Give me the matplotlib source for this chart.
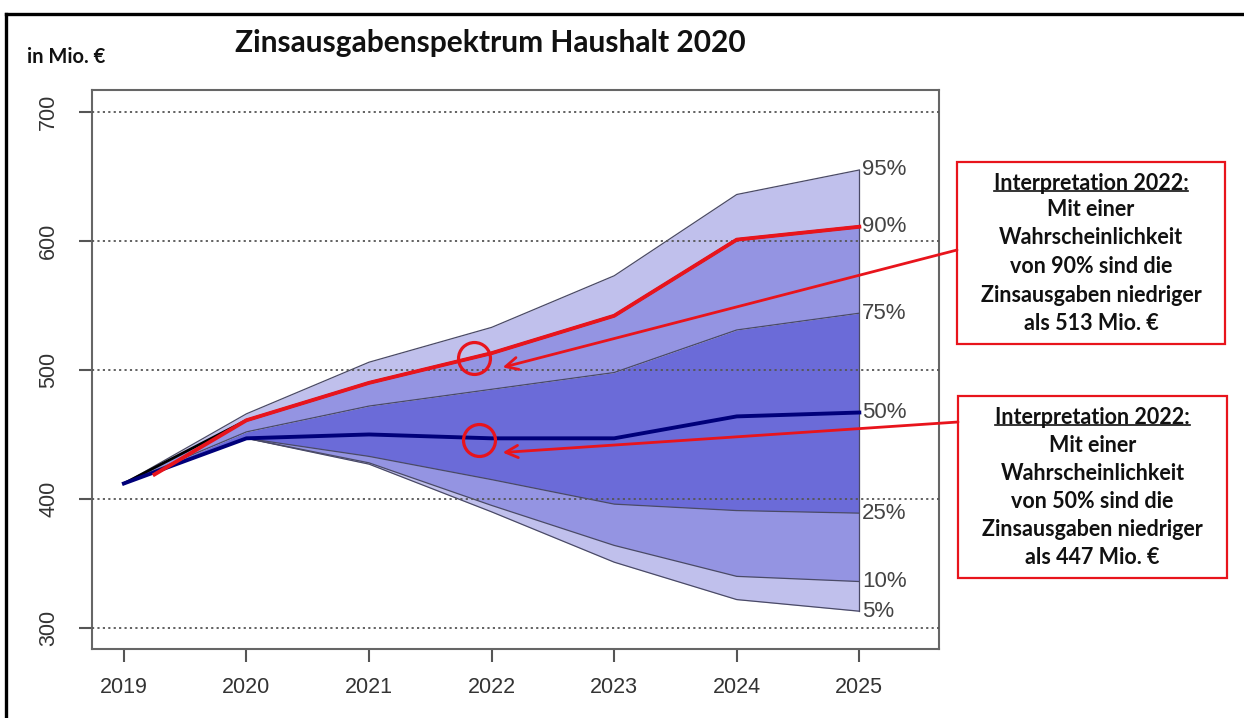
import matplotlib
matplotlib.use("Agg")
import matplotlib.pyplot as plt
from matplotlib.lines import Line2D
from matplotlib.patches import Rectangle

# Fan chart quantiles (Mio. EUR)
years = [2019, 2020, 2021, 2022, 2023, 2024, 2025]
q05 = [412, 447, 427, 390, 351, 322, 313]
q10 = [412, 447, 428, 395, 364, 340, 336]
q25 = [412, 447, 433, 415, 396, 391, 389]
q50 = [412, 447, 450, 447, 447, 464, 467]
q75 = [412, 452, 472, 485, 498, 531, 544]
q90 = [412, 461, 490, 513, 542, 601, 611]
q95 = [412, 466, 506, 533, 573, 636, 655]
quant_labels = ["5%", "10%", "25%", "50%", "75%", "90%", "95%"]

# hand-drawn red 90% overlay
red_x = [2019.25, 2020, 2021, 2022, 2023, 2024, 2025]
red_y = [419, 461, 490, 513, 542, 601, 611]

# highlighted points in 2022 and where the arrows point
circle_x = [2021.86, 2021.90]
circle_y = [509, 446]
arrow_x = [2022.09, 2022.09]
arrow_y = [502, 436]

grid_y = [300, 400, 500, 600, 700]

box_lines = [
    ["Interpretation 2022:", "Mit einer", "Wahrscheinlichkeit",
     "von 90% sind die", "Zinsausgaben niedriger", "als 513 Mio. \u20ac"],
    ["Interpretation 2022:", "Mit einer", "Wahrscheinlichkeit",
     "von 50% sind die", "Zinsausgaben niedriger", "als 447 Mio. \u20ac"],
]

W, H = 1244, 718
light = "#c0c0ec"
mid = "#9494e2"
inner = "#6b6bd8"
edge = "#4a4a66"
red = "#e8141c"
navy = "#00007a"


def fp(x, y):
    # figure pixel (from top-left) -> figure fraction
    return x / W, 1 - y / H


fig = plt.figure(figsize=(W / 100, H / 100), dpi=100)
ax = fig.add_axes([92 / W, 1 - 649 / H, (939 - 92) / W, (649 - 90) / H])

qs = [q05, q10, q25, q50, q75, q90, q95]
cols = [light, mid, inner, inner, mid, light]
for lo, hi, c in zip(qs[:-1], qs[1:], cols):
    ax.fill_between(years, lo, hi, color=c, lw=0, zorder=1)
for q in [q05, q10, q25, q75, q95]:
    ax.plot(years, q, color=edge, lw=0.9, zorder=2)
ax.plot([2025, 2025], [q05[-1], q95[-1]], color=edge, lw=0.9, zorder=2)
ax.plot(years, q90, color="black", lw=2, zorder=2)

for g in grid_y:
    ax.axhline(g, color="#555555", lw=1.3, ls=(0, (1.2, 1.8)), zorder=3)

ax.plot(years, q50, color=navy, lw=2.8, zorder=4)
ax.plot(red_x, red_y, color=red, lw=2.8, zorder=5)

for q, lab in zip(qs, quant_labels):
    ax.text(2025.02, q[-1], lab, ha="left", va="center", fontsize=16,
            color="#444444", family="Liberation Sans", zorder=6)

ax.plot(circle_x, circle_y, "o", ms=23, mfc="none", mec=red, mew=2.3, zorder=6)

ax.set_xlim(2018.74, 2025.65)
ax.set_ylim(283.7, 717)
ax.set_xticks(years)
ax.set_yticks(grid_y)
ax.set_yticklabels([str(v) for v in grid_y], rotation=90, va="center")
for s in ax.spines.values():
    s.set_color("#666666")
    s.set_linewidth(1.5)
ax.tick_params(axis="both", direction="out", length=9.5, width=1.5,
               color="#555555", labelcolor="#333333", labelsize=15.5)
ax.tick_params(axis="y", pad=14)
ax.tick_params(axis="x", pad=11)
for t in ax.get_xticklabels() + ax.get_yticklabels():
    t.set_family("Liberation Sans")

# outer frame (top and left)
fig.add_artist(Line2D([6 / W, 1.0], [1 - 14 / H, 1 - 14 / H], color="black", lw=2.4))
fig.add_artist(Line2D([6 / W, 6 / W], [1 - 14 / H, 0], color="black", lw=2.4))

fig.text(*fp(490, 43), "Zinsausgabenspektrum Haushalt 2020", ha="center",
         va="center", fontsize=21.5, family="Lato", weight="bold", color="#111111")
fig.text(*fp(27, 57), "in Mio. \u20ac", ha="left", va="center", fontsize=14.5,
         family="Lato", weight="bold", color="#111111")

# interpretation boxes
boxes = [(957, 162, 1225, 344), (958, 396, 1227, 578)]
line_y = [[183, 210, 238, 267, 295, 323], [417, 445, 473, 502, 529, 557]]
arrow_start = [(957, 250), (958, 422)]
firsts = []
for (x0, y0, x1, y1), lines, ys in zip(boxes, box_lines, line_y):
    fx0, fy1 = fp(x0, y1)
    fx1, fy0 = fp(x1, y0)
    fig.add_artist(Rectangle((fx0, fy1), fx1 - fx0, fy0 - fy1, fill=False,
                             ec=red, lw=1.6, transform=fig.transFigure))
    cx = (x0 + x1) / 2
    for i, (txt, yy) in enumerate(zip(lines, ys)):
        t = fig.text(*fp(cx, yy), txt, ha="center", va="center", fontsize=15.5,
                     family="Lato", weight="bold", color="#111111")
        if i == 0:
            firsts.append(t)

for (sx, sy), axx, ayy in zip(arrow_start, arrow_x, arrow_y):
    ax.annotate("", xy=(axx, ayy), xycoords="data", xytext=fp(sx, sy),
                textcoords="figure fraction", annotation_clip=False,
                arrowprops=dict(arrowstyle="->", color=red, lw=2,
                                mutation_scale=22, shrinkA=0, shrinkB=0),
                zorder=7)

fig.canvas.draw()
r = fig.canvas.get_renderer()
for t in firsts:
    bb = t.get_window_extent(r).transformed(fig.transFigure.inverted())
    yl = bb.y0 + 0.1 * (bb.y1 - bb.y0)
    fig.add_artist(Line2D([bb.x0, bb.x1], [yl, yl], color="#111111", lw=1.2))

fig.savefig("out.png", dpi=100)
